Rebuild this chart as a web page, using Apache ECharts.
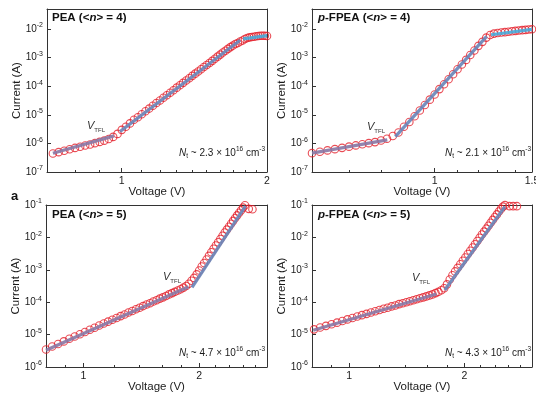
<!DOCTYPE html>
<html>
<head>
<meta charset="utf-8">
<script src="https://cdn.jsdelivr.net/npm/echarts@6/dist/echarts.min.js"></script>
<style>
  html, body { margin: 0; padding: 0; background: #ffffff; }
  #chart { width: 536px; height: 394px; }
</style>
</head>
<body>
<div id="chart"></div>
<script>
// ---- PEA (<n> = 4): current-voltage sweep ----
const peaN4Voltage = [0.72, 0.74, 0.76, 0.78, 0.80, 0.82, 0.84, 0.86, 0.88, 0.90, 0.92, 0.94, 0.96, 0.98,
  1.00, 1.02, 1.04, 1.06, 1.08, 1.10, 1.12, 1.14, 1.16, 1.18, 1.20, 1.22, 1.24, 1.26, 1.28, 1.30,
  1.32, 1.34, 1.36, 1.38, 1.40, 1.42, 1.44, 1.46, 1.48, 1.50, 1.52, 1.54, 1.56, 1.58, 1.60, 1.62,
  1.64, 1.66, 1.68, 1.70, 1.72, 1.74, 1.76, 1.78, 1.80, 1.82, 1.84, 1.86, 1.88, 1.90, 1.92, 1.94,
  1.96, 1.98, 2.00];
const peaN4Current = [4.45e-7, 4.95e-7, 5.55e-7, 6.25e-7, 6.95e-7, 7.65e-7, 8.4e-7, 9.2e-7, 1.02e-6, 1.13e-6,
  1.25e-6, 1.42e-6, 1.69e-6, 2.15e-6, 2.98e-6, 3.8e-6, 5.0e-6, 6.7e-6, 8.2e-6, 1.04e-5, 1.33e-5, 1.65e-5,
  2.07e-5, 2.58e-5, 3.18e-5, 3.95e-5, 4.83e-5, 5.9e-5, 7.2e-5, 8.9e-5, 1.08e-4, 1.31e-4, 1.58e-4, 1.89e-4,
  2.3e-4, 2.75e-4, 3.28e-4, 3.92e-4, 4.68e-4, 5.5e-4, 6.5e-4, 7.7e-4, 9.15e-4, 1.08e-3, 1.27e-3, 1.5e-3,
  1.73e-3, 2.02e-3, 2.33e-3, 2.63e-3, 2.98e-3, 3.23e-3, 3.64e-3, 3.95e-3, 4.45e-3, 4.83e-3, 5.1e-3,
  5.25e-3, 5.37e-3, 5.55e-3, 5.68e-3, 5.77e-3, 5.82e-3, 5.77e-3, 5.68e-3];
// power-law fits (ohmic / trap-filling / child regions)
const peaN4OhmicV = [0.72, 0.964];
const peaN4OhmicI = [4.5e-7, 1.83e-6];
const peaN4TrapV = [0.992, 1.759];
const peaN4TrapI = [2.6e-6, 4.05e-3];
const peaN4ChildV = [1.785, 2.0];
const peaN4ChildI = [4.5e-3, 5.9e-3];

// ---- p-FPEA (<n> = 4) ----
const fpeaN4Voltage = [0.60, 0.62, 0.64, 0.66, 0.68, 0.70, 0.72, 0.74, 0.76, 0.78, 0.80, 0.82, 0.84, 0.86,
  0.88, 0.90, 0.92, 0.94, 0.96, 0.98, 1.00, 1.02, 1.04, 1.06, 1.08, 1.10, 1.12, 1.14, 1.16, 1.18, 1.20,
  1.22, 1.24, 1.26, 1.28, 1.30, 1.32, 1.34, 1.36, 1.38, 1.40, 1.42, 1.44, 1.46, 1.48, 1.50];
const fpeaN4Current = [4.57e-7, 5.1e-7, 5.7e-7, 6.3e-7, 6.98e-7, 7.7e-7, 8.5e-7, 9.3e-7, 1.02e-6, 1.11e-6,
  1.26e-6, 1.45e-6, 1.82e-6, 2.4e-6, 3.8e-6, 5.6e-6, 8.9e-6, 1.41e-5, 2.19e-5, 3.39e-5, 5.13e-5, 7.9e-5,
  1.17e-4, 1.74e-4, 2.63e-4, 3.9e-4, 5.75e-4, 8.3e-4, 1.23e-3, 1.78e-3, 2.57e-3, 3.55e-3, 5.0e-3, 6.2e-3,
  6.9e-3, 7.25e-3, 7.5e-3, 7.75e-3, 8.0e-3, 8.3e-3, 8.6e-3, 8.9e-3, 9.1e-3, 9.3e-3, 9.55e-3, 9.8e-3];
const fpeaN4OhmicV = [0.60, 0.821];
const fpeaN4OhmicI = [4.57e-7, 1.32e-6];
const fpeaN4TrapV = [0.849, 1.242];
const fpeaN4TrapI = [1.72e-6, 5.53e-3];
const fpeaN4ChildV = [1.265, 1.50];
const fpeaN4ChildI = [6.3e-3, 9.7e-3];

// ---- PEA (<n> = 5) ----
const peaN5Voltage = [0.80, 0.83, 0.86, 0.89, 0.92, 0.95, 0.98, 1.01, 1.04, 1.07, 1.10, 1.13, 1.16, 1.19,
  1.22, 1.25, 1.28, 1.31, 1.34, 1.37, 1.40, 1.43, 1.46, 1.49, 1.52, 1.55, 1.58, 1.61, 1.64, 1.67, 1.70,
  1.73, 1.76, 1.79, 1.82, 1.85, 1.88, 1.91, 1.94, 1.97, 2.00, 2.03, 2.06, 2.09, 2.12, 2.15, 2.18, 2.21,
  2.24, 2.27, 2.30, 2.33, 2.36, 2.39, 2.42, 2.45, 2.48, 2.51, 2.54, 2.57, 2.60, 2.63, 2.69, 2.75];
const peaN5Current = [3.47e-6, 4.27e-6, 5.13e-6, 6.17e-6, 7.41e-6, 8.71e-6, 1.02e-5, 1.20e-5, 1.41e-5, 1.62e-5,
  1.91e-5, 2.19e-5, 2.51e-5, 2.88e-5, 3.24e-5, 3.72e-5, 4.17e-5, 4.79e-5, 5.37e-5, 6.03e-5,
  6.76e-5, 7.59e-5, 8.51e-5, 9.33e-5, 1.05e-4, 1.15e-4, 1.29e-4, 1.41e-4, 1.55e-4, 1.74e-4,
  1.91e-4, 2.09e-4, 2.29e-4, 2.51e-4, 2.82e-4, 3.16e-4, 3.72e-4, 4.57e-4, 5.62e-4, 7.24e-4,
  9.55e-4, 1.26e-3, 1.62e-3, 2.09e-3, 2.69e-3, 3.47e-3, 4.47e-3, 5.62e-3, 7.08e-3, 8.91e-3,
  1.12e-2, 1.41e-2, 1.74e-2, 2.14e-2, 2.63e-2, 3.24e-2, 3.98e-2, 4.79e-2, 5.75e-2, 6.92e-2,
  8.32e-2, 9.8e-2, 7.6e-2, 7.4e-2];
const peaN5OhmicV = [0.80, 1.877];
const peaN5OhmicI = [3.28e-6, 2.98e-4];
const peaN5TrapV = [1.916, 2.637];
const peaN5TrapI = [2.85e-4, 9.3e-2];

// ---- p-FPEA (<n> = 5) ----
const fpeaN5Voltage = [0.81, 0.84, 0.87, 0.90, 0.93, 0.96, 0.99, 1.02, 1.05, 1.08, 1.11, 1.14, 1.17, 1.20,
  1.23, 1.26, 1.29, 1.32, 1.35, 1.38, 1.41, 1.44, 1.47, 1.50, 1.53, 1.56, 1.59, 1.62, 1.65, 1.68, 1.71,
  1.74, 1.77, 1.80, 1.83, 1.86, 1.89, 1.92, 1.95, 1.98, 2.01, 2.04, 2.07, 2.10, 2.13, 2.16, 2.19, 2.22,
  2.25, 2.28, 2.31, 2.34, 2.37, 2.40, 2.43, 2.46, 2.49, 2.52, 2.55, 2.62, 2.68, 2.74];
const fpeaN5Current = [1.45e-5, 1.66e-5, 1.86e-5, 2.09e-5, 2.34e-5, 2.63e-5, 2.95e-5, 3.24e-5, 3.63e-5, 3.98e-5,
  4.37e-5, 4.79e-5, 5.25e-5, 5.75e-5, 6.31e-5, 6.76e-5, 7.41e-5, 7.94e-5, 8.71e-5, 9.33e-5,
  1.0e-4, 1.07e-4, 1.15e-4, 1.23e-4, 1.32e-4, 1.41e-4, 1.51e-4, 1.62e-4, 1.74e-4, 1.91e-4,
  2.09e-4, 2.34e-4, 2.69e-4, 3.55e-4, 5.01e-4, 6.76e-4, 8.91e-4, 1.15e-3, 1.48e-3, 1.91e-3,
  2.40e-3, 3.09e-3, 3.89e-3, 4.90e-3, 6.17e-3, 7.76e-3, 9.77e-3, 1.23e-2, 1.51e-2, 1.86e-2,
  2.29e-2, 2.82e-2, 3.47e-2, 4.27e-2, 5.13e-2, 6.31e-2, 7.59e-2, 8.91e-2, 9.9e-2,
  9.2e-2, 9.2e-2, 9.2e-2];
const fpeaN5OhmicV = [0.806, 1.690];
const fpeaN5OhmicI = [1.36e-5, 1.79e-4];
const fpeaN5TrapV = [1.777, 2.549];
const fpeaN5TrapI = [2.38e-4, 8.85e-2];

// ---- axis ticks ----
const topLeftVoltageTicks = [1, 2];
const topLeftVoltageMinor = [0.8, 0.9, 1.1, 1.2, 1.3, 1.4, 1.5, 1.6, 1.7, 1.8, 1.9];
const topRightVoltageTicks = [1, 1.5];
const topRightVoltageMinor = [0.7, 0.8, 0.9, 1.1, 1.2, 1.3, 1.4];
const bottomVoltageTicks = [1, 2];
const bottomVoltageMinor = [0.9, 1.2, 1.4, 1.6, 1.8, 2.2, 2.4, 2.6, 2.8];
const currentTicksN4 = [1e-7, 1e-6, 1e-5, 1e-4, 1e-3, 1e-2];
const currentTicksN5 = [1e-6, 1e-5, 1e-4, 1e-3, 1e-2, 1e-1];

// ---- panel text ----
const panelTitles = [
  '{b|PEA (<}{bi|n}{b|> = 4)}',
  '{bi|p}{b|-FPEA (<}{bi|n}{b|> = 4)}',
  '{b|PEA (<}{bi|n}{b|> = 5)}',
  '{bi|p}{b|-FPEA (<}{bi|n}{b|> = 5)}'
];
const trapDensities = ['2.3', '2.1', '4.7', '4.3'];

// ---------------------------------------------------------------
const FONT = '"Liberation Sans", Arial, Helvetica, sans-serif';
const INK = '#1a1a1a';
const AXIS = '#333333';
const RED = '#e41f2a';
const OHMIC = '#8a7aa6';
const TRAP = '#6a87ba';
const CHILD = '#4ba9d8';
const lg = Math.log10;

const panels = [
  { grid: { left: 47, top: 9, width: 220, height: 163 },
    xr: [0.7, 2], yr: [1e-7, 0.05],
    v: peaN4Voltage, i: peaN4Current,
    fits: [[peaN4OhmicV, peaN4OhmicI, OHMIC], [peaN4TrapV, peaN4TrapI, TRAP], [peaN4ChildV, peaN4ChildI, CHILD]],
    xt: topLeftVoltageTicks, xm: topLeftVoltageMinor, yt: currentTicksN4 },
  { grid: { left: 312, top: 9, width: 220, height: 163 },
    xr: [0.6, 1.5], yr: [1e-7, 0.05],
    v: fpeaN4Voltage, i: fpeaN4Current,
    fits: [[fpeaN4OhmicV, fpeaN4OhmicI, OHMIC], [fpeaN4TrapV, fpeaN4TrapI, TRAP], [fpeaN4ChildV, fpeaN4ChildI, CHILD]],
    xt: topRightVoltageTicks, xm: topRightVoltageMinor, yt: currentTicksN4 },
  { grid: { left: 46, top: 205, width: 221, height: 162 },
    xr: [0.8, 3], yr: [1e-6, 0.1],
    v: peaN5Voltage, i: peaN5Current,
    fits: [[peaN5OhmicV, peaN5OhmicI, OHMIC], [peaN5TrapV, peaN5TrapI, TRAP]],
    xt: bottomVoltageTicks, xm: bottomVoltageMinor, yt: currentTicksN5 },
  { grid: { left: 312, top: 205, width: 220, height: 162 },
    xr: [0.8, 3], yr: [1e-6, 0.1],
    v: fpeaN5Voltage, i: fpeaN5Current,
    fits: [[fpeaN5OhmicV, fpeaN5OhmicI, OHMIC], [fpeaN5TrapV, fpeaN5TrapI, TRAP]],
    xt: bottomVoltageTicks, xm: bottomVoltageMinor, yt: currentTicksN5 }
];

// text placement of the in-panel annotations
const titlePos = [[52, 11], [318, 11], [52, 208], [318, 208]];
const trapLabelPos = [[87, 119], [367, 120], [163, 270], [412, 271]];
const densityRight = [271, 5, 271, 5];
const densityTop = [146, 146, 346, 346];

const grids = [], xAxes = [], yAxes = [], series = [], titles = [];

function plain(size, extra) {
  return Object.assign({ fontSize: size, fontWeight: 'normal', fontStyle: 'normal', fontFamily: FONT, color: INK }, extra || {});
}

panels.forEach((p, k) => {
  grids.push(Object.assign({ containLabel: false, outerBoundsMode: 'none', show: false }, p.grid));
  const xmin = lg(p.xr[0]), xmax = lg(p.xr[1]);
  const ymin = lg(p.yr[0]), ymax = lg(p.yr[1]);
  const xBase = xAxes.length, yBase = yAxes.length;

  // bottom axis: labels + major ticks
  xAxes.push({
    gridIndex: k, type: 'value', position: 'bottom', min: xmin, max: xmax,
    axisLine: { show: true, onZero: false, lineStyle: { color: AXIS, width: 1 } },
    axisTick: { show: true, inside: true, length: 4, customValues: p.xt.map(lg), lineStyle: { color: AXIS, width: 1 } },
    axisLabel: {
      show: true, customValues: p.xt.map(lg), margin: 4, fontSize: 10.5, color: INK, fontFamily: FONT,
      formatter: v => String(Math.round(Math.pow(10, v) * 10) / 10)
    },
    splitLine: { show: false },
    name: 'Voltage (V)', nameLocation: 'middle', nameGap: 14, nameMoveOverlap: false,
    nameTextStyle: { fontSize: 11.5, color: INK, fontFamily: FONT }
  });
  // bottom axis: minor ticks
  xAxes.push({
    gridIndex: k, type: 'value', position: 'bottom', min: xmin, max: xmax,
    axisLine: { show: false, onZero: false },
    axisTick: { show: true, inside: true, length: 2, customValues: p.xm.map(lg), lineStyle: { color: AXIS, width: 1 } },
    axisLabel: { show: false }, splitLine: { show: false }
  });
  // top frame edge
  xAxes.push({
    gridIndex: k, type: 'value', position: 'top', min: xmin, max: xmax,
    axisLine: { show: true, onZero: false, lineStyle: { color: AXIS, width: 1 } },
    axisTick: { show: false }, axisLabel: { show: false }, splitLine: { show: false }
  });

  yAxes.push({
    gridIndex: k, type: 'value', position: 'left', min: ymin, max: ymax,
    axisLine: { show: true, onZero: false, lineStyle: { color: AXIS, width: 1 } },
    axisTick: { show: true, inside: true, length: 4, customValues: p.yt.map(lg), lineStyle: { color: AXIS, width: 1 } },
    axisLabel: {
      show: true, customValues: p.yt.map(lg), margin: 4, color: INK, fontFamily: FONT,
      formatter: v => '{b|10}{s|' + Math.round(v) + '}',
      rich: {
        b: plain(10, { lineHeight: 14 }),
        s: plain(7, { lineHeight: 8, verticalAlign: 'top' })
      }
    },
    splitLine: { show: false },
    name: 'Current (A)', nameLocation: 'middle', nameGap: 24, nameMoveOverlap: false,
    nameTextStyle: { fontSize: 11.5, color: INK, fontFamily: FONT }
  });
  yAxes.push({
    gridIndex: k, type: 'value', position: 'right', min: ymin, max: ymax,
    axisLine: { show: true, onZero: false, lineStyle: { color: AXIS, width: 1 } },
    axisTick: { show: false }, axisLabel: { show: false }, splitLine: { show: false }
  });

  series.push({
    type: 'scatter', xAxisIndex: xBase, yAxisIndex: yBase,
    data: p.v.map((v, n) => [lg(v), lg(p.i[n])]),
    symbol: 'circle', symbolSize: 7.5, z: 2, silent: true,
    itemStyle: { color: 'rgba(255,255,255,0)', borderColor: RED, borderWidth: 1.1 }
  });
  p.fits.forEach(([fv, fi, color]) => {
    series.push({
      type: 'line', xAxisIndex: xBase, yAxisIndex: yBase,
      data: fv.map((v, n) => [lg(v), lg(fi[n])]),
      symbol: 'none', z: 3, silent: true,
      lineStyle: { color: color, width: 3.2, opacity: 0.92, cap: 'butt' }
    });
  });

  titles.push({
    text: panelTitles[k], left: titlePos[k][0], top: titlePos[k][1], padding: 0,
    textStyle: {
      rich: {
        b: plain(11.5, { fontWeight: 'bold', color: '#111', lineHeight: 14 }),
        bi: plain(11.5, { fontWeight: 'bold', fontStyle: 'italic', color: '#111', lineHeight: 14 })
      }
    }
  });
  titles.push({
    text: '{v|V}{s|TFL}', left: trapLabelPos[k][0], top: trapLabelPos[k][1], padding: 0,
    textStyle: {
      fontWeight: 'normal',
      rich: {
        v: plain(11, { fontStyle: 'italic', color: '#333', lineHeight: 14 }),
        s: plain(6, { color: '#333', lineHeight: 8, verticalAlign: 'bottom' })
      }
    }
  });
  titles.push({
    right: densityRight[k], top: densityTop[k], padding: 0,
    text: '{n|N}{t|t}{r| ~ ' + trapDensities[k] + ' × 10}{p|16}{r| cm}{p|-3}',
    textStyle: {
      fontWeight: 'normal',
      rich: {
        n: plain(10, { fontStyle: 'italic', lineHeight: 14 }),
        t: plain(6.5, { lineHeight: 8, verticalAlign: 'bottom' }),
        r: plain(10, { lineHeight: 14 }),
        p: plain(6.5, { lineHeight: 8, verticalAlign: 'top' })
      }
    }
  });
});

titles.push({
  text: 'a', left: 11, top: 190, padding: 0,
  textStyle: { fontSize: 13, fontWeight: 'bold', fontFamily: FONT, color: '#111' }
});

const chart = echarts.init(document.getElementById('chart'), null, { renderer: 'canvas' });
chart.setOption({
  backgroundColor: '#ffffff',
  animation: false,
  title: titles,
  grid: grids,
  xAxis: xAxes,
  yAxis: yAxes,
  series: series
});
</script>
</body>
</html>
